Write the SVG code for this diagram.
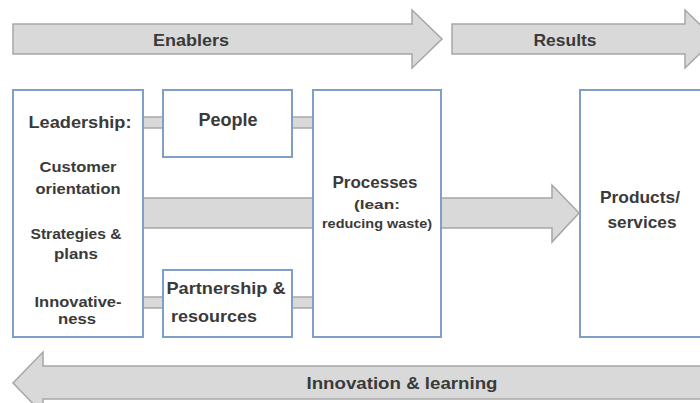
<svg xmlns="http://www.w3.org/2000/svg" width="700" height="403" viewBox="0 0 700 403">
<style>
.arr{fill:#d9d9d9;stroke:#a6a6a6;stroke-width:1.5}
.box{fill:#ffffff;stroke:#7f9fc8;stroke-width:2}
.t{font-family:"Liberation Sans",Arial,sans-serif;font-weight:bold;fill:#3a3a3a;text-anchor:middle}
</style>
<rect width="700" height="403" fill="#ffffff"/>
<g id="connectors">
<path class="arr" d="M13,24 H412 V10 L442,39 L412,68 V54 H13 Z"/>
<path class="arr" d="M452,24 H685 V10 L715,39 L685,68 V54 H452 Z"/>
<rect class="arr" x="143" y="117" width="20" height="11"/>
<rect class="arr" x="292" y="117" width="21" height="11"/>
<rect class="arr" x="143" y="297" width="20" height="11"/>
<rect class="arr" x="292" y="297" width="21" height="11"/>
<rect class="arr" x="143" y="198" width="170" height="30"/>
<path class="arr" d="M441,198 H552 V185 L579,213 L552,242 V228 H441 Z"/>
<path class="arr" d="M710,366 H43 V352 L13,383 L43,414 V399 H710 Z"/>
</g>
<g id="enablers"><text class="t" x="191" y="46" font-size="16.5" textLength="76" lengthAdjust="spacingAndGlyphs">Enablers</text></g>
<g id="results"><text class="t" x="565" y="46" font-size="16.5" textLength="63" lengthAdjust="spacingAndGlyphs">Results</text></g>
<g id="leadership">
<rect class="box" x="13" y="90" width="130" height="247"/>
<text class="t" x="80" y="128" font-size="17" textLength="103" lengthAdjust="spacingAndGlyphs">Leadership:</text>
<text class="t" x="78" y="172" font-size="15" textLength="77" lengthAdjust="spacingAndGlyphs">Customer</text>
<text class="t" x="78" y="194" font-size="15" textLength="85" lengthAdjust="spacingAndGlyphs">orientation</text>
<text class="t" x="76" y="239" font-size="15" textLength="91" lengthAdjust="spacingAndGlyphs">Strategies &amp;</text>
<text class="t" x="76" y="259" font-size="15" textLength="44" lengthAdjust="spacingAndGlyphs">plans</text>
<text class="t" x="78" y="307" font-size="15" textLength="87" lengthAdjust="spacingAndGlyphs">Innovative-</text>
<text class="t" x="77" y="324" font-size="15" textLength="38" lengthAdjust="spacingAndGlyphs">ness</text>
</g>
<g id="people">
<rect class="box" x="163" y="90" width="129" height="67"/>
<text class="t" x="228" y="126" font-size="17.5" textLength="59" lengthAdjust="spacingAndGlyphs">People</text>
</g>
<g id="partnership">
<rect class="box" x="163" y="270" width="129" height="67"/>
<text class="t" x="226" y="294" font-size="17" textLength="119" lengthAdjust="spacingAndGlyphs">Partnership &amp;</text>
<text class="t" x="214" y="322" font-size="17" textLength="86" lengthAdjust="spacingAndGlyphs">resources</text>
</g>
<g id="processes">
<rect class="box" x="313" y="90" width="128" height="247"/>
<text class="t" x="375" y="188" font-size="17" textLength="85" lengthAdjust="spacingAndGlyphs">Processes</text>
<text class="t" x="377" y="209" font-size="12.5" textLength="46" lengthAdjust="spacingAndGlyphs">(lean:</text>
<text class="t" x="377" y="228" font-size="13" textLength="110" lengthAdjust="spacingAndGlyphs">reducing waste)</text>
</g>
<g id="products">
<rect class="box" x="580" y="90" width="130" height="247"/>
<text class="t" x="640" y="203" font-size="17" textLength="80" lengthAdjust="spacingAndGlyphs">Products/</text>
<text class="t" x="642" y="228" font-size="17" textLength="69" lengthAdjust="spacingAndGlyphs">services</text>
</g>
<g id="innovation"><text class="t" x="402" y="389" font-size="16.5" textLength="191" lengthAdjust="spacingAndGlyphs">Innovation &amp; learning</text></g>
</svg>
